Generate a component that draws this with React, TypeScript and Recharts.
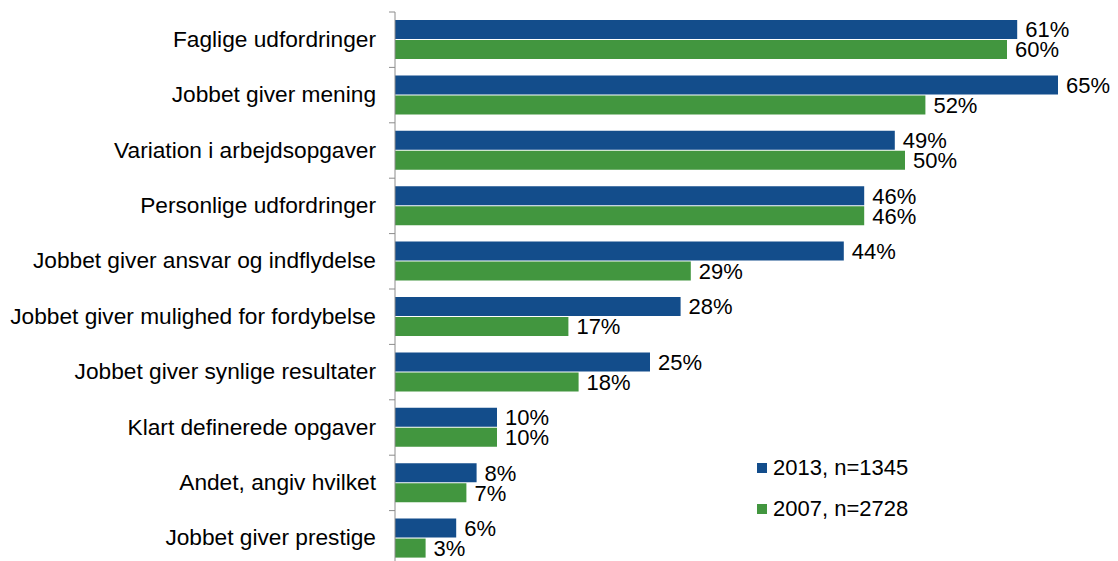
import { BarChart, Bar, XAxis, YAxis, LabelList } from "recharts";

const categories = [
  "Faglige udfordringer",
  "Jobbet giver mening",
  "Variation i arbejdsopgaver",
  "Personlige udfordringer",
  "Jobbet giver ansvar og indflydelse",
  "Jobbet giver mulighed for fordybelse",
  "Jobbet giver synlige resultater",
  "Klart definerede opgaver",
  "Andet, angiv hvilket",
  "Jobbet giver prestige",
];
const values2013 = [61, 65, 49, 46, 44, 28, 25, 10, 8, 6];
const values2007 = [60, 52, 50, 46, 29, 17, 18, 10, 7, 3];
const seriesNames = ["2013, n=1345", "2007, n=2728"];

const BLUE = "#134D8B";
const GREEN = "#42963F";
const FONT = "'Liberation Sans', Arial, sans-serif";
const FS = 22.7;

const data = categories.map((name, i) => ({
  name,
  y2013: values2013[i],
  y2007: values2007[i],
}));

const CHART_H = 570;
const MARGIN_TOP = 12;
const MARGIN_BOTTOM = 4;
const band = (CHART_H - MARGIN_TOP - MARGIN_BOTTOM) / categories.length;

// category label plus a small tick at the top boundary of the band (Excel style)
function CategoryTick(props: any) {
  const { x, y, payload } = props;
  const axisX = x + 19;
  return (
    <g>
      <text x={x} y={y} dy={7} textAnchor="end" fontSize={FS} fill="#000" fontFamily={FONT}>
        {payload.value}
      </text>
      <line x1={axisX - 6} x2={axisX} y1={y - band / 2} y2={y - band / 2} stroke="#8C8C8C" strokeWidth={1} />
    </g>
  );
}

function LegendBox() {
  const colors = [BLUE, GREEN];
  return (
    <div style={{ position: "absolute", left: 757, top: 447, fontFamily: FONT, fontSize: 22, color: "#000" }}>
      {seriesNames.map((s, i) => (
        <div key={s} style={{ display: "flex", alignItems: "center", height: 41, whiteSpace: "nowrap" }}>
          <span style={{ width: 10, height: 10, background: colors[i], marginRight: 6, display: "inline-block" }} />
          {s}
        </div>
      ))}
    </div>
  );
}

const labelStyle = { fontSize: 22, fill: "#000", fontFamily: FONT };

export default function App() {
  return (
    <div style={{ position: "absolute", left: 0, top: 0, width: 1118, height: 561, overflow: "hidden", background: "#fff" }}>
      <BarChart
        width={1118}
        height={CHART_H}
        data={data}
        layout="vertical"
        margin={{ top: MARGIN_TOP, right: 9, bottom: MARGIN_BOTTOM, left: 0 }}
        barSize={19}
        barGap={1}
      >
        <XAxis type="number" domain={[0, 70]} hide />
        <YAxis
          type="category"
          dataKey="name"
          width={395}
          tickLine={false}
          tickSize={0}
          tickMargin={19}
          axisLine={{ stroke: "#8C8C8C" }}
          tick={<CategoryTick />}
          interval={0}
        />
        <Bar dataKey="y2013" name={seriesNames[0]} fill={BLUE} isAnimationActive={false}>
          <LabelList dataKey="y2013" position="right" offset={8} formatter={(v: any) => `${v}%`} style={labelStyle} />
        </Bar>
        <Bar dataKey="y2007" name={seriesNames[1]} fill={GREEN} isAnimationActive={false}>
          <LabelList dataKey="y2007" position="right" offset={8} formatter={(v: any) => `${v}%`} style={labelStyle} />
        </Bar>
      </BarChart>
      <LegendBox />
    </div>
  );
}
